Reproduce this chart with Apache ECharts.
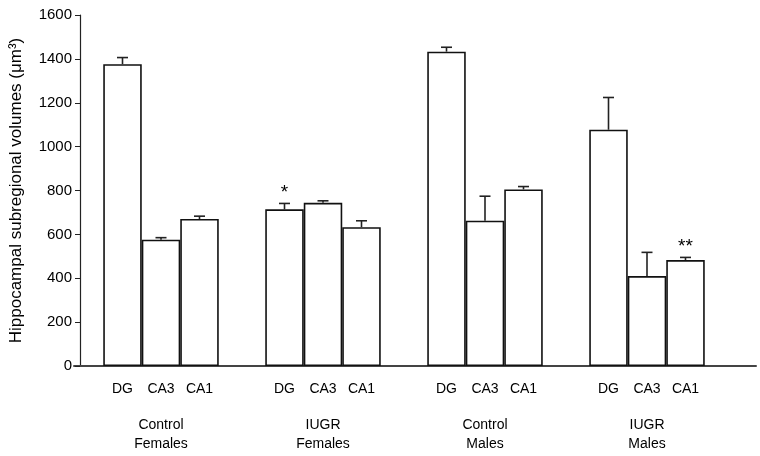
<!DOCTYPE html>
<html>
<head>
<meta charset="utf-8">
<script src="https://cdn.jsdelivr.net/npm/echarts@6/dist/echarts.min.js"></script>
<style>html,body{margin:0;padding:0;background:#fff}#c{width:760px;height:456px}</style>
</head>
<body>
<div id="c"></div>
<script>
var groups = ['Control\nFemales', 'IUGR\nFemales', 'Control\nMales', 'IUGR\nMales'];
var regions = ['DG', 'CA3', 'CA1'];
var dgValues = [1376, 714, 1433, 1077];
var dgErrors = [30, 27, 20, 147];
var ca3Values = [576, 744, 662, 410];
var ca3Errors = [9, 9, 112, 108];
var ca1Values = [670, 633, 805, 483];
var ca1Errors = [13, 29, 13, 12];
var dgSig = ['', '*', '', ''];
var ca3Sig = ['', '', '', ''];
var ca1Sig = ['', '', '', '**'];
var yTicks = [0, 200, 400, 600, 800, 1000, 1200, 1400, 1600];

var values = [dgValues, ca3Values, ca1Values];
var errors = [dgErrors, ca3Errors, ca1Errors];
var sigs = [dgSig, ca3Sig, ca1Sig];
var BAR_W = 38.5;
var FONT = 'Liberation Sans, Arial, sans-serif';

var chart = echarts.init(document.getElementById('c'), null, {renderer: 'canvas'});

var barSeries = regions.map(function (r, k) {
  return {
    type: 'bar',
    name: r,
    xAxisIndex: 0, yAxisIndex: 0,
    data: values[k],
    barWidth: BAR_W,
    barGap: '0%',
    itemStyle: {color: '#ffffff', borderColor: '#111', borderWidth: 1.6},
    label: {
      show: true, position: 'bottom', distance: 16,
      formatter: function () { return r; },
      color: '#000', fontFamily: FONT, fontSize: 14
    },
    emphasis: {disabled: true},
    silent: true,
    z: 2
  };
});

var errData = [];
for (var k = 0; k < 3; k++) {
  for (var g = 0; g < groups.length; g++) {
    errData.push([g, values[k][g], errors[k][g], k, sigs[k][g]]);
  }
}

var errSeries = {
  type: 'custom',
  xAxisIndex: 0, yAxisIndex: 0,
  data: errData,
  silent: true,
  z: 3,
  renderItem: function (params, api) {
    var g = api.value(0), v = api.value(1), e = api.value(2), k = api.value(3);
    var sig = errData[params.dataIndex][4];
    var base = api.coord([g, v]);
    var top = api.coord([g, v + e]);
    var x = base[0] + (k - 1) * BAR_W;
    var cap = 5.5;
    var children = [
      {type: 'line', shape: {x1: x, y1: base[1], x2: x, y2: top[1]}, style: {stroke: '#222', lineWidth: 1.6}},
      {type: 'line', shape: {x1: x - cap, y1: top[1], x2: x + cap, y2: top[1]}, style: {stroke: '#222', lineWidth: 1.6}}
    ];
    if (sig) {
      children.push({type: 'text', style: {text: sig, x: x, y: top[1] - 1, textAlign: 'center', textVerticalAlign: 'bottom', fill: '#000', font: '19px ' + FONT}});
    }
    return {type: 'group', children: children};
  }
};

chart.setOption({
  animation: false,
  backgroundColor: '#ffffff',
  grid: [
    {left: 74, right: 32, top: 15, bottom: 90, containLabel: false},
    {left: 74, right: 4, top: 15, bottom: 90, containLabel: false}
  ],
  xAxis: [
    {
      type: 'category', gridIndex: 0, data: groups,
      axisLine: {show: false},
      axisTick: {show: false},
      axisLabel: {color: '#000', fontFamily: FONT, fontSize: 14, margin: 50, lineHeight: 19}
    },
    {
      type: 'category', gridIndex: 1, data: [''],
      axisLine: {show: true, lineStyle: {color: '#444', width: 2}},
      axisTick: {show: false},
      axisLabel: {show: false}
    }
  ],
  yAxis: [
    {
      type: 'value', gridIndex: 0, min: yTicks[0], max: yTicks[yTicks.length - 1], interval: 200,
      name: 'Hippocampal subregional volumes (\u03bcm\u00b3)',
      nameLocation: 'middle', nameGap: 55, nameRotate: 90,
      nameTextStyle: {color: '#000', fontFamily: FONT, fontSize: 17},
      axisLine: {show: true, lineStyle: {color: '#222', width: 1.2}},
      axisTick: {show: true, length: 5, lineStyle: {color: '#222'}},
      axisLabel: {color: '#000', fontFamily: FONT, fontSize: 15, margin: 8,
        formatter: function (v) { return String(v); }},
      splitLine: {show: false}
    },
    {
      type: 'value', gridIndex: 1, min: 0, max: 1600, show: false
    }
  ],
  series: barSeries.concat([errSeries])
});
</script>
</body>
</html>
